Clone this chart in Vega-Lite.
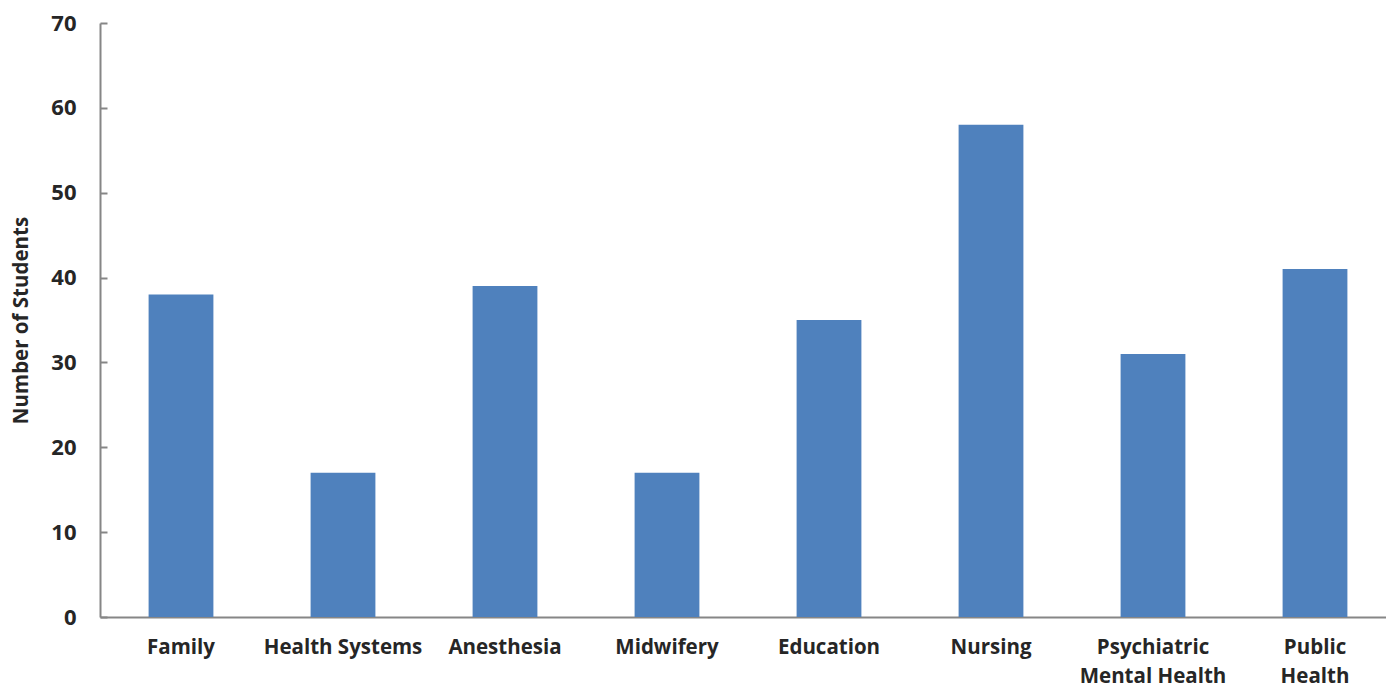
{
  "$schema": "https://vega.github.io/schema/vega-lite/v6.json",
  "width": 1296,
  "height": 594,
  "autosize": {"type": "none"},
  "padding": {"left": 100, "top": 23, "right": 0, "bottom": 72},
  "background": "white",
  "config": {"view": {"stroke": null}, "font": "Open Sans"},
  "data": {
    "values": [
      {"program": "Family", "students": 38},
      {"program": "Health Systems", "students": 17},
      {"program": "Anesthesia", "students": 39},
      {"program": "Midwifery", "students": 17},
      {"program": "Education", "students": 35},
      {"program": "Nursing", "students": 58},
      {"program": "Psychiatric Mental Health", "students": 31},
      {"program": "Public Health", "students": 41}
    ]
  },
  "mark": {"type": "bar", "color": "#4F81BD"},
  "encoding": {
    "x": {
      "field": "program",
      "type": "nominal",
      "sort": null,
      "scale": {"paddingInner": 0.6, "paddingOuter": 0.3},
      "axis": {
        "title": null,
        "labelAngle": 0,
        "ticks": false,
        "domainColor": "#868686",
        "domainWidth": 2,
        "labelFont": "Open Sans",
        "labelFontSize": 20.5,
        "labelFontWeight": "bold",
        "labelColor": "#262626",
        "labelPadding": 20,
        "labelBaseline": "top",
        "labelLineHeight": 29,
        "labelExpr": "datum.value == 'Psychiatric Mental Health' ? ['Psychiatric', 'Mental Health'] : datum.value == 'Public Health' ? ['Public', 'Health'] : datum.value"
      }
    },
    "y": {
      "field": "students",
      "type": "quantitative",
      "scale": {"domain": [0, 70]},
      "axis": {
        "title": "Number of Students",
        "titleFont": "Open Sans",
        "titleFontSize": 20.5,
        "titleFontWeight": "bold",
        "titleColor": "#262626",
        "titlePadding": 19,
        "values": [0, 10, 20, 30, 40, 50, 60, 70],
        "grid": false,
        "domainColor": "#868686",
        "domainWidth": 2,
        "tickColor": "#868686",
        "tickWidth": 2,
        "tickSize": -7,
        "labelFont": "Open Sans",
        "labelFontSize": 22,
        "labelFontWeight": "bold",
        "labelColor": "#262626",
        "labelPadding": 31
      }
    }
  }
}
